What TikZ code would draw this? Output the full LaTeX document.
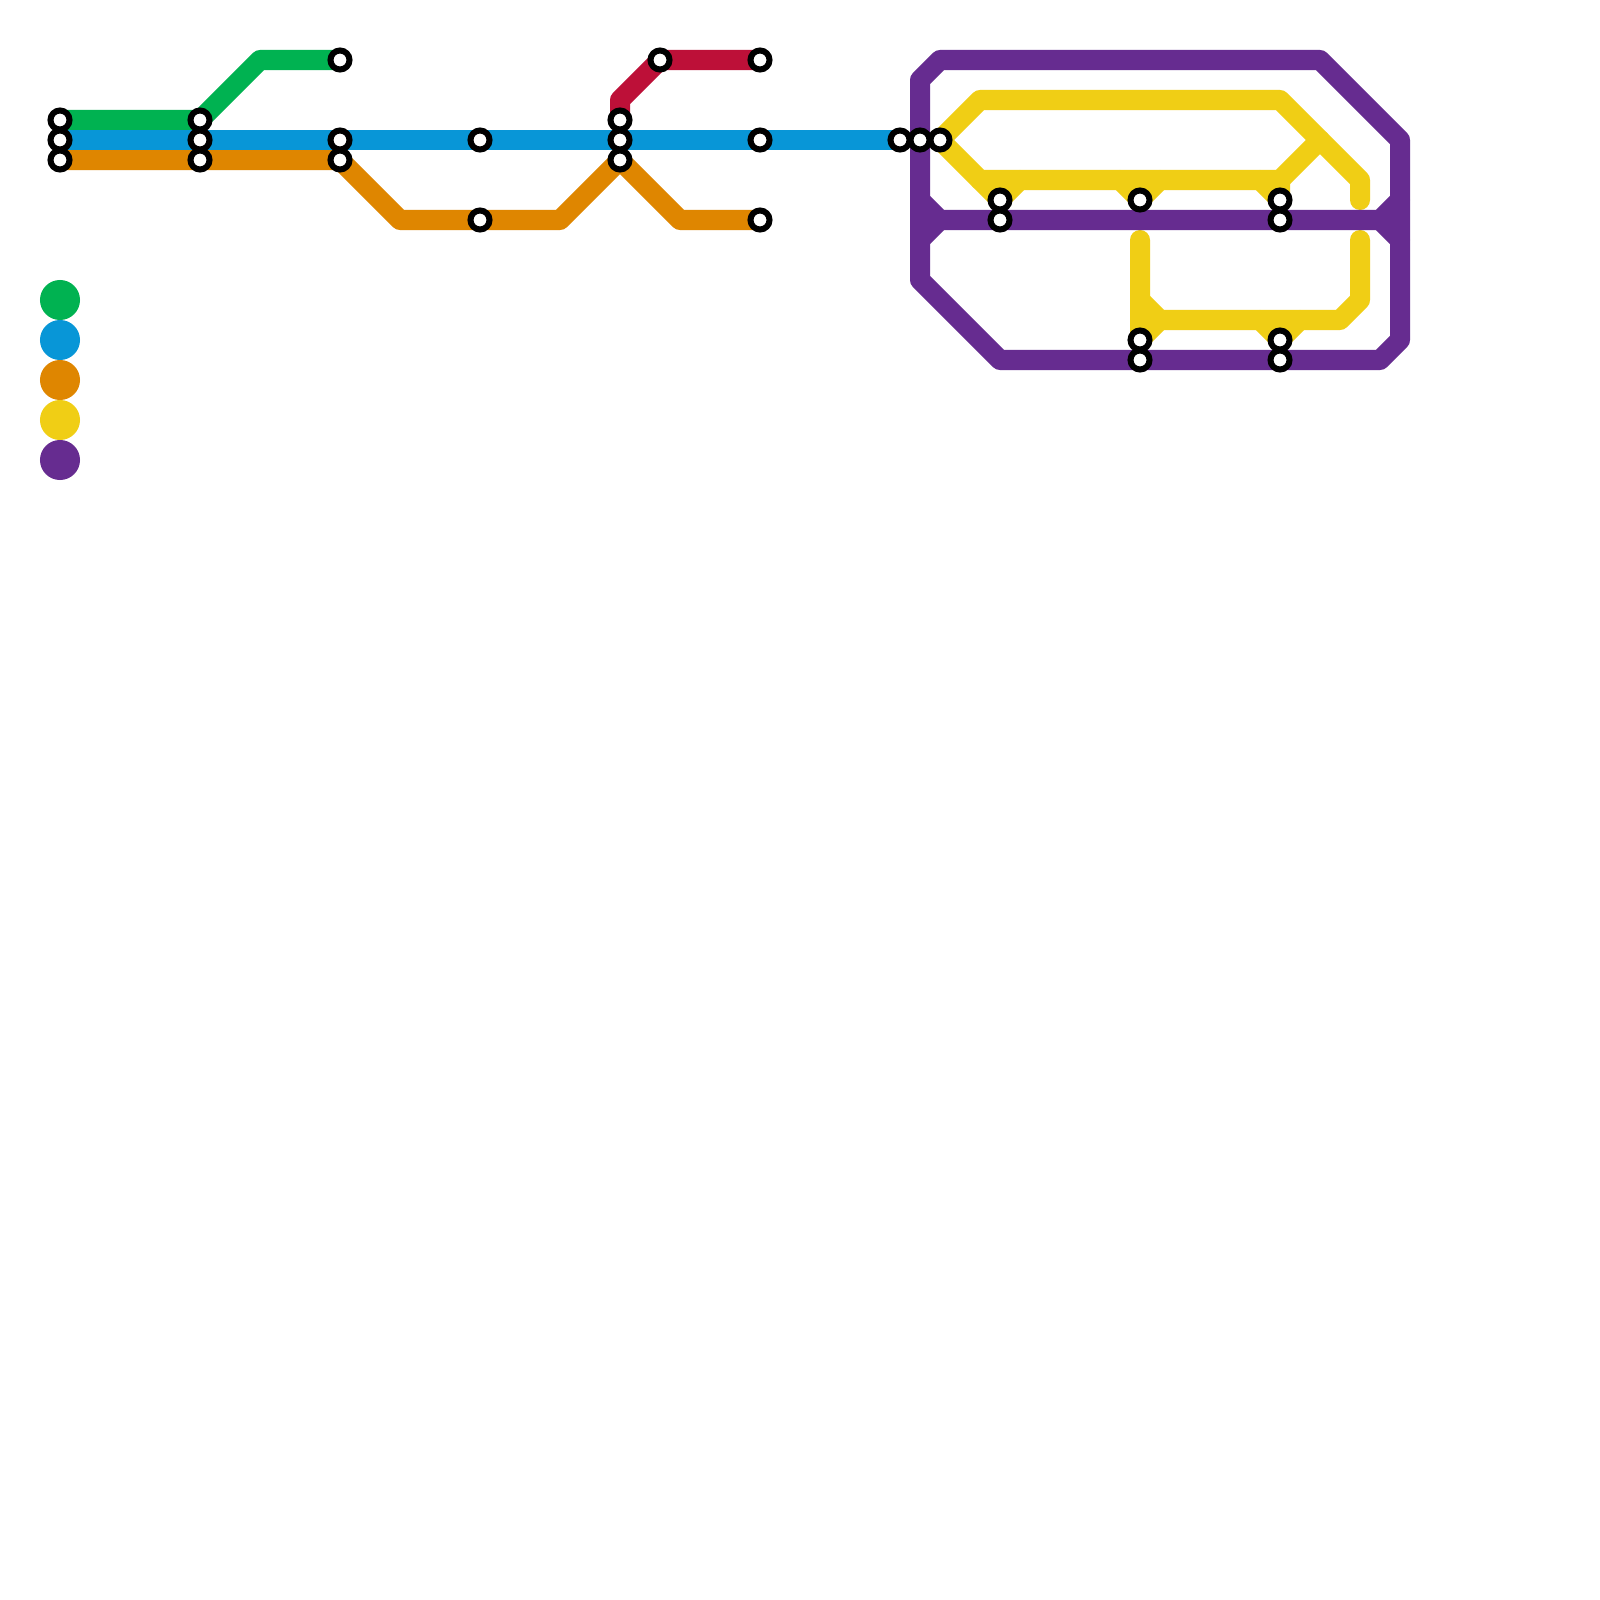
\documentclass[tikz,border=0pt]{standalone}
\pgfdeclarelayer{fg}
\pgfsetlayers{main,fg}
\definecolor{mgreen}{HTML}{00B251}
\definecolor{mblue}{HTML}{0896D7}
\definecolor{morange}{HTML}{DF8600}
\definecolor{myellow}{HTML}{F0CE15}
\definecolor{mpurple}{HTML}{662C90}
\definecolor{mred}{HTML}{BD1038}
\tikzset{
  stn/.style={circle,draw=black,fill=white,line width=0.06cm,minimum size=0.19cm,inner sep=0pt,outer sep=0pt},
  key/.style={circle,minimum size=0.40cm,inner sep=0pt,outer sep=0pt},
  metro/.style={line width=0.2cm,line cap=round,line join=round}
}
\newcommand{\wpt}[2]{\coordinate (w#1x#2) at (#1,#2);}
\newcommand{\stnat}[2]{\node[stn] (s#1x#2) at (#1,#2) {};}
\begin{document}
\begin{tikzpicture}[x=0.01cm,y=-0.01cm]
\useasboundingbox (0,0) rectangle (1600,1600);
\fill[white] (0,0) rectangle (1600,1600);
% stations (on the top layer)
\begin{pgfonlayer}{fg}
\stnat{60}{120}\stnat{60}{140}\stnat{60}{160}
\stnat{200}{120}\stnat{200}{140}\stnat{200}{160}
\stnat{340}{60}\stnat{340}{140}\stnat{340}{160}
\stnat{480}{140}\stnat{480}{220}
\stnat{620}{120}\stnat{620}{140}\stnat{620}{160}
\stnat{660}{60}
\stnat{760}{60}\stnat{760}{140}\stnat{760}{220}
\stnat{900}{140}\stnat{920}{140}\stnat{940}{140}
\stnat{1000}{200}\stnat{1000}{220}
\stnat{1140}{200}\stnat{1140}{340}\stnat{1140}{360}
\stnat{1280}{200}\stnat{1280}{220}\stnat{1280}{340}\stnat{1280}{360}
\end{pgfonlayer}
% way points
\wpt{260}{60}\wpt{400}{220}\wpt{560}{220}\wpt{680}{220}\wpt{620}{100}
\wpt{980}{100}\wpt{1280}{100}\wpt{1360}{180}\wpt{1360}{200}
\wpt{980}{180}\wpt{1280}{180}\wpt{1320}{140}\wpt{1020}{180}
\wpt{1120}{180}\wpt{1160}{180}\wpt{1260}{180}
\wpt{1140}{240}\wpt{1140}{300}\wpt{1160}{320}\wpt{1340}{320}\wpt{1360}{300}\wpt{1360}{240}
\wpt{1260}{320}\wpt{1300}{320}
\wpt{920}{280}\wpt{920}{80}\wpt{940}{60}\wpt{1320}{60}\wpt{1400}{140}\wpt{1400}{340}\wpt{1380}{360}\wpt{1000}{360}
\wpt{920}{200}\wpt{940}{220}\wpt{1380}{220}\wpt{1400}{200}\wpt{920}{240}\wpt{1400}{240}
% green
\draw[metro,mgreen] (s60x120.center) -- (s200x120.center) -- (w260x60) -- (s340x60.center);
% red
\draw[metro,mred] (s620x120.center) -- (w620x100) -- (s660x60.center) -- (s760x60.center);
% orange
\draw[metro,morange] (s60x160.center) -- (s200x160.center) -- (s340x160.center) -- (w400x220) -- (s480x220.center) -- (w560x220) -- (s620x160.center) -- (w680x220) -- (s760x220.center);
% blue
\draw[metro,mblue] (s60x140.center) -- (s200x140.center) -- (s340x140.center) -- (s480x140.center) -- (s620x140.center) -- (s760x140.center) -- (s900x140.center);
% yellow
\draw[metro,myellow] (s940x140.center) -- (w980x100) -- (w1280x100) -- (w1360x180) -- (w1360x200);
\draw[metro,myellow] (s940x140.center) -- (w980x180) -- (w1280x180) -- (w1320x140);
\draw[metro,myellow] (w980x180) -- (s1000x200.center) -- (w1020x180);
\draw[metro,myellow] (w1120x180) -- (s1140x200.center) -- (w1160x180);
\draw[metro,myellow] (w1260x180) -- (s1280x200.center) -- (w1280x180);
\draw[metro,myellow] (w1140x240) -- (s1140x340.center) -- (w1160x320);
\draw[metro,myellow] (w1140x300) -- (w1160x320) -- (w1340x320) -- (w1360x300) -- (w1360x240);
\draw[metro,myellow] (w1260x320) -- (s1280x340.center) -- (w1300x320);
% purple
\draw[metro,mpurple] (w920x280) -- (s920x140.center) -- (w920x80) -- (w940x60) -- (w1320x60) -- (w1400x140) -- (w1400x340) -- (w1380x360) -- (s1280x360.center) -- (s1140x360.center) -- (w1000x360) -- cycle;
\draw[metro,mpurple] (w920x200) -- (w940x220) -- (s1000x220.center) -- (s1280x220.center) -- (w1380x220) -- (w1400x200);
\draw[metro,mpurple] (w920x240) -- (w940x220);
\draw[metro,mpurple] (w1380x220) -- (w1400x240);
% legend
\node[key,fill=mgreen] (kgreen) at (60,300) {};
\node[key,fill=mblue] (kblue) at (60,340) {};
\node[key,fill=morange] (korange) at (60,380) {};
\node[key,fill=myellow] (kyellow) at (60,420) {};
\node[key,fill=mpurple] (kpurple) at (60,460) {};
\end{tikzpicture}
\end{document}
